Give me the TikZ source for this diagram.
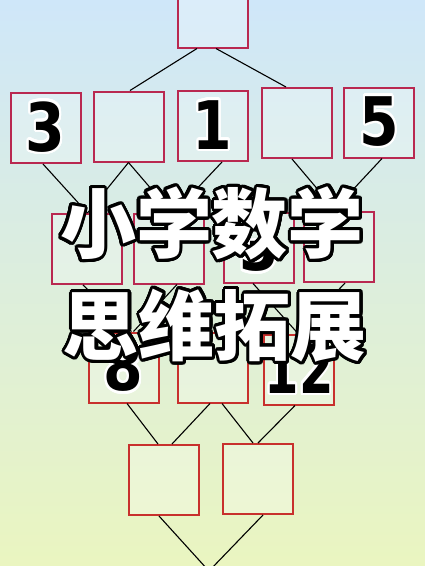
\documentclass[tikz,border=0pt]{standalone}
\usepackage{fontspec}
\usepackage[copies]{contour}
\newfontfamily\cjkfont{Noto Sans CJK SC}
\newfontfamily\digitfont{DejaVu Sans}
\definecolor{skyblue}{RGB}{207,231,249}
\definecolor{paleleaf}{RGB}{218,240,226}
\definecolor{lemon}{RGB}{234,245,192}
\definecolor{boxrose}{RGB}{185,40,80}
\definecolor{boxred}{RGB}{200,48,45}
\contournumber{32}
% black digit with white halo, white title with black edge
\newcommand{\digits}[2][0.85]{\scalebox{#1}[1]{\digitfont\bfseries\fontsize{67}{67}\selectfont
  \contourlength{2.5pt}\contour{white}{#2}}}
\newcommand{\bigtitle}[1]{{\cjkfont\bfseries\fontsize{76}{76}\selectfont
  \contourlength{3pt}\contour{black}{#1}}}

\begin{document}
\begin{tikzpicture}[
            x = 1pt, y = -1pt, % pixel grid, y runs down
            line width = 1.1pt % connector style
        ]

        \tikzstyle{cell}=[
            draw = boxrose,
            line width = 2pt,
            fill = white, fill opacity = 0.25, text opacity = 1,
            minimum size = 70pt,
            inner sep = 0pt
        ]
        \tikzstyle{lowcell}=[cell, draw = boxred]

	\shade[top color=skyblue, middle color=paleleaf, bottom color=lemon] (0,0) rectangle (425,566);
	\useasboundingbox (0,0) rectangle (425,566);

	\node[cell] (top) at (212.5,12.5) {};
	\node[cell] (a) at (45.5,128) {\digits{3}};
	\node[cell] (b) at (128.5,126.5) {};
	\node[cell] (c) at (212.5,126) {\digits{1}};
	\node[cell] (d) at (296.5,123) {};
	\node[cell] (e) at (379,122.5) {\digits{5}};
	\node[cell] (f) at (86.5,249) {};
	\node[cell] (g) at (168.5,248.5) {};
	\node[cell] (h) at (259,247.5) {\digits{3}};
	\node[cell] (i) at (339,247) {};
	\node[lowcell] (j) at (123.5,367.5) {\raisebox{-4pt}{\digits{8}}};
	\node[lowcell] (k) at (212.5,367.5) {};
	\node[lowcell] (l) at (299,369.5) {\digits[0.74]{12}};
	\node[lowcell] (m) at (163.5,480) {};
	\node[lowcell] (n) at (257.5,479) {};
	\coordinate (o) at (209,570);

	\draw ([xshift=-15.5pt]top.south) -- ([xshift=1.5pt]b.north);
	\draw ([xshift=3.5pt]top.south) -- ([xshift=-10.5pt]d.north);
	\draw ([xshift=-2.5pt]a.south) -- ([xshift=1pt]f.north);
	\draw (b.south) -- ([xshift=1pt]f.north);
	\draw (b.south) -- ([xshift=3pt]g.north);
	\draw ([xshift=9.5pt]c.south) -- ([xshift=6pt]g.north);
	\draw ([xshift=-4.5pt]d.south) -- ([xshift=-3pt]i.north);
	\draw ([xshift=3pt]e.south) -- ([xshift=-6pt]i.north);

	\draw ([xshift=-3.5pt]f.south) -- ([xshift=8pt]j.north);
	\draw ([xshift=8.5pt]g.south) -- ([xshift=10pt]j.north);
	\draw ([xshift=-6pt]h.south) -- ([xshift=-1pt]l.north);
	\draw ([xshift=6pt]i.south) -- ([xshift=-2pt]l.north);

	\draw ([xshift=3.5pt]j.south) -- ([xshift=-5.5pt]m.north);
	\draw ([xshift=-2.5pt]k.south) -- ([xshift=8.5pt]m.north);
	\draw ([xshift=9.5pt]k.south) -- ([xshift=-4.5pt]n.north);
	\draw ([xshift=-4pt]l.south) -- ([xshift=0.5pt]n.north);
	\draw ([xshift=-4.5pt]m.south) -- ([xshift=-1pt]o);
	\draw ([xshift=5.5pt]n.south) -- ([xshift=1pt]o);

	% title over the puzzle
	\node[text=white, inner sep=0pt] (title1) at (212,225) {\bigtitle{小学数学}};
	\node[text=white, inner sep=0pt] (title2) at (215,327) {\bigtitle{思维拓展}};

    \end{tikzpicture}
\end{document}
